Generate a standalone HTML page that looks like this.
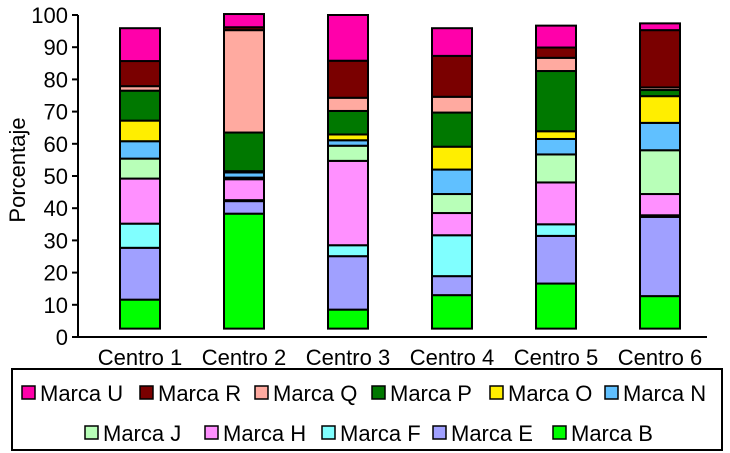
<!DOCTYPE html>
<html><head><meta charset="utf-8"><style>
body{margin:0;background:#fff}
svg{display:block;font-family:"Liberation Sans Narrow","Liberation Sans",sans-serif}
</style></head><body>
<svg id="chart" width="730" height="453"></svg>
<script>
const categories=["Centro 1","Centro 2","Centro 3","Centro 4","Centro 5","Centro 6"];
const seriesNames=["Marca B","Marca E","Marca F","Marca H","Marca J","Marca N","Marca O","Marca P","Marca Q","Marca R","Marca U"];
const seriesColors=["#00ff00","#a0a0ff","#80ffff","#ff90ff","#b8ffb8","#60c0ff","#ffee00","#007800","#ffaaa0","#7a0000","#ff00aa"];
const baseOffset=[2.6,2.6,2.6,2.6,2.6,2.6];
const marcaB=[9,35.7,5.9,10.4,14,10.1];
const marcaE=[16.1,3.9,16.6,5.9,14.8,24.6];
const marcaF=[7.5,0.3,3.4,12.7,3.6,0.5];
const marcaH=[14,6.5,26.2,6.9,13,6.6];
const marcaJ=[6.2,0.5,4.7,5.9,8.7,13.6];
const marcaN=[5.4,1.6,1.7,7.6,4.8,8.5];
const marcaO=[6.4,0.4,1.8,7.1,2.4,8.3];
const marcaP=[9.3,12,7.3,10.6,18.7,1.9];
const marcaQ=[1.4,31.8,4.1,4.9,4.1,0.8];
const marcaR=[7.8,0.9,11.5,12.7,3.2,17.8];
const marcaU=[10.2,4.1,14.2,8.6,6.8,2.1];
const yTicks=[0,10,20,30,40,50,60,70,80,90,100];
const series=[marcaB,marcaE,marcaF,marcaH,marcaJ,marcaN,marcaO,marcaP,marcaQ,marcaR,marcaU];

const NS="http://www.w3.org/2000/svg";
const svg=document.getElementById('chart');
function mk(t,a,p){const e=document.createElementNS(NS,t);for(const k in a)e.setAttribute(k,a[k]);(p||svg).appendChild(e);return e;}
const FS=22;
const y0=337,y1=15,xL=78,xR=707,bandStart=88,band=104,barW=40;
const yS=v=>y0-(v/100)*(y0-y1);
const xC=i=>bandStart+band*(i+0.5);

const ax=mk('g',{});


mk('line',{x1:xL,y1:y1,x2:xL,y2:y0,stroke:'#000','stroke-width':2},ax);
mk('line',{x1:xL,y1:y0,x2:xR,y2:y0,stroke:'#000','stroke-width':2},ax);
yTicks.forEach(t=>{
  mk('line',{x1:xL-6,y1:yS(t),x2:xL,y2:yS(t),stroke:'#000','stroke-width':2},ax);
  const tx=mk('text',{x:xL-10,y:yS(t)+8,'text-anchor':'end','font-size':FS},ax);
  tx.textContent=t;
  
  
});
const yt=mk('text',{x:0,y:0,'font-size':FS,'text-anchor':'middle',transform:'translate(25,170) rotate(-90)'});
yt.textContent='Porcentaje';



categories.forEach((c,i)=>{
  let cum=baseOffset[i];
  const g=mk('g',{});
  
  
  series.forEach((s,k)=>{
    const v=s[i];
    const top=yS(cum+v),bot=yS(cum);
    const r=mk('rect',{x:xC(i)-barW/2,y:top,width:barW,height:Math.max(bot-top,0.1),fill:seriesColors[k],stroke:'#000','stroke-width':2},g);
    
    
    cum+=v;
  });
  const t=mk('text',{x:xC(i),y:365,'text-anchor':'middle','font-size':FS});
  t.textContent=c;
  
  
});

const lg=mk('g',{});


mk('rect',{x:12,y:369,width:710,height:81,fill:'#fff',stroke:'#000','stroke-width':2},lg);
const order=[10,9,8,7,6,5,4,3,2,1,0];
const rowX=[[22,140,255,372,490,605],[85,205,322,433,553]];
const rowY=[393,433];
let idx=0;
rowX.forEach((xs,r)=>xs.forEach(x=>{
  const k=order[idx++];
  const e=mk('g',{},lg);
  
  
  mk('rect',{x:x,y:rowY[r]-7,width:13,height:13,fill:seriesColors[k],stroke:'#000','stroke-width':1.5},e);
  const t=mk('text',{x:x+18,y:rowY[r]+8,'font-size':FS},e);
  t.textContent=seriesNames[k];
}));
</script>
</body></html>
